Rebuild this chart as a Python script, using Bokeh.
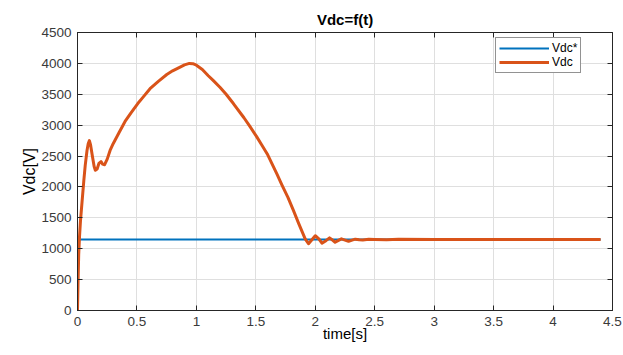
from bokeh.plotting import figure
from bokeh.models import (ColumnDataSource, Range1d, FixedTicker, LinearAxis, Legend, LegendItem)
from bokeh.embed import file_html
from bokeh.resources import INLINE

# --- data ---
t_ref = [0.0, 4.4]
vdc_ref = [1150, 1150]

t_vdc = [0.0, 0.005, 0.01, 0.017, 0.025, 0.04, 0.053, 0.065, 0.08, 0.09, 0.10, 0.11, 0.125,
         0.14, 0.15, 0.165, 0.18, 0.198, 0.21, 0.228, 0.25, 0.274, 0.3, 0.35, 0.4, 0.45,
         0.507, 0.55, 0.61, 0.68, 0.751, 0.8, 0.863, 0.9, 0.941, 0.97, 1.0, 1.05, 1.1,
         1.143, 1.2, 1.25, 1.311, 1.4, 1.45, 1.508, 1.55, 1.6, 1.677, 1.72, 1.77, 1.816,
         1.86, 1.915, 1.943, 1.97, 2.0, 2.03, 2.056, 2.09, 2.12, 2.145, 2.167, 2.195,
         2.22, 2.25, 2.28, 2.31, 2.336, 2.37, 2.4, 2.45, 2.5, 2.6, 2.7, 3.0, 3.5, 4.0, 4.4]
vdc = [0, 500, 900, 1200, 1450, 1800, 2100, 2350, 2590, 2700, 2750, 2680, 2500,
       2330, 2270, 2290, 2380, 2410, 2370, 2360, 2450, 2590, 2700, 2880, 3060, 3200,
       3350, 3450, 3590, 3710, 3820, 3880, 3940, 3975, 4000, 3995, 3970, 3900, 3800,
       3720, 3610, 3500, 3350, 3120, 2980, 2810, 2680, 2520, 2210, 2030, 1830, 1620,
       1410, 1160, 1080, 1140, 1210, 1160, 1090, 1130, 1175, 1140, 1105, 1135,
       1160, 1140, 1120, 1140, 1155, 1145, 1140, 1152, 1150, 1145, 1152, 1150, 1150, 1150, 1150]

x_ticks = [0, 0.5, 1, 1.5, 2, 2.5, 3, 3.5, 4, 4.5]
x_tick_labels = ["0", "0.5", "1", "1.5", "2", "2.5", "3", "3.5", "4", "4.5"]
y_ticks = [0, 500, 1000, 1500, 2000, 2500, 3000, 3500, 4000, 4500]

FONT = "Liberation Sans"
AX = "#262626"

p = figure(width=623, height=355, output_backend="svg", toolbar_location=None,
           x_range=Range1d(0, 4.5), y_range=Range1d(0, 4500),
           min_border_left=77, min_border_right=11, min_border_top=32, min_border_bottom=45,
           title="Vdc=f(t)")
p.title.align = "center"
p.title.text_font = FONT
p.title.text_font_size = "15px"
p.title.text_font_style = "bold"
p.title.text_color = "#000000"

p.outline_line_color = AX
p.outline_line_width = 1
p.background_fill_color = "white"
p.border_fill_color = "white"

for ax in (p.xaxis[0], p.yaxis[0]):
    ax.major_tick_in = 5
    ax.major_tick_out = 0
    ax.minor_tick_in = 0
    ax.minor_tick_out = 0
    ax.axis_line_color = AX
    ax.major_tick_line_color = AX
    ax.major_label_text_font = FONT
    ax.major_label_text_font_size = "13.5px"
    ax.major_label_text_color = "#3a3a3a"
    ax.axis_label_text_font = FONT
    ax.axis_label_text_font_style = "normal"
    ax.axis_label_text_color = "#000000"

p.xaxis[0].ticker = FixedTicker(ticks=x_ticks)
p.xaxis[0].major_label_overrides = {k: v for k, v in zip(x_ticks, x_tick_labels)}
p.yaxis[0].ticker = FixedTicker(ticks=y_ticks)
p.xaxis[0].axis_label = "time[s]"
p.yaxis[0].axis_label = "Vdc[V]"
p.xaxis[0].axis_label_text_font_size = "15px"
p.yaxis[0].axis_label_text_font_size = "16px"
p.xaxis[0].axis_label_standoff = -4
p.yaxis[0].axis_label_standoff = 0
p.xaxis[0].major_label_standoff = 6
p.yaxis[0].major_label_standoff = 6

# box ticks on top and right (no labels)
top = LinearAxis(ticker=FixedTicker(ticks=x_ticks),
                 major_label_overrides={k: "" for k in x_ticks},
                 major_tick_in=5, major_tick_out=0, minor_tick_in=0, minor_tick_out=0,
                 axis_line_color=AX, major_tick_line_color=AX, major_label_standoff=0)
right = LinearAxis(ticker=FixedTicker(ticks=y_ticks),
                   major_label_overrides={k: "" for k in y_ticks},
                   major_tick_in=5, major_tick_out=0, minor_tick_in=0, minor_tick_out=0,
                   axis_line_color=AX, major_tick_line_color=AX, major_label_standoff=0)
p.add_layout(top, "above")
p.add_layout(right, "right")

p.xgrid.ticker = FixedTicker(ticks=x_ticks)
p.ygrid.ticker = FixedTicker(ticks=y_ticks)
p.grid.grid_line_color = "#dfdfdf"
p.grid.grid_line_width = 1

src_ref = ColumnDataSource(dict(t=t_ref, v=vdc_ref))
src_vdc = ColumnDataSource(dict(t=t_vdc, v=vdc))
r1 = p.line("t", "v", source=src_ref, line_color="#0072BD", line_width=2)
r2 = p.line("t", "v", source=src_vdc, line_color="#D95319", line_width=3, line_join="round")

legend = Legend(items=[LegendItem(label="Vdc*", renderers=[r1]),
                       LegendItem(label="Vdc", renderers=[r2])],
                location=(418, 237))
legend.label_text_font = FONT
legend.label_text_font_size = "12px"
legend.label_text_color = "#000000"
legend.glyph_width = 50
legend.glyph_height = 12
legend.label_height = 12
legend.label_standoff = 3
legend.spacing = 0
legend.padding = 3
legend.margin = 0
legend.border_line_color = AX
legend.border_line_width = 1
legend.background_fill_alpha = 1
p.add_layout(legend, "center")

open("out.html", "w").write(file_html(p, INLINE))
